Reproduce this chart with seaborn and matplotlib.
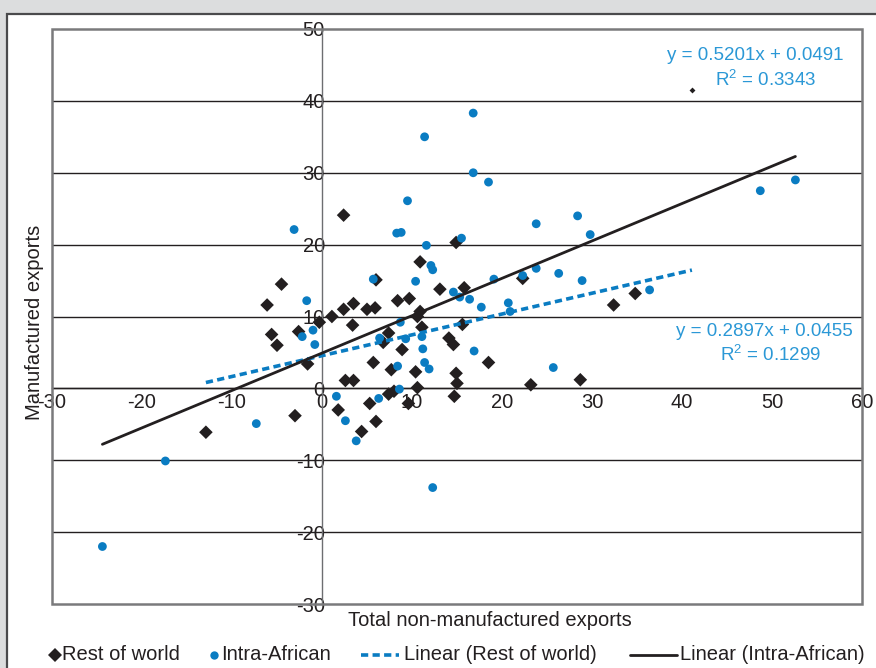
import numpy as np
import pandas as pd
import matplotlib
matplotlib.use("Agg")
import matplotlib.pyplot as plt
from matplotlib.lines import Line2D
from matplotlib.patches import Rectangle
import seaborn as sns

# Rest of world: (total non-manufactured exports, manufactured exports)
rw_x = [-12.9, -6.1, -5.6, -5.0, -4.5, -3.0, -2.6, -1.6, -0.3, 1.1, 1.8, 2.4, 2.4,
        2.6, 3.5, 3.4, 3.5, 4.4, 5.0, 5.9, 6.0, 5.7, 5.3, 6.0, 6.8, 7.4, 7.7, 7.4,
        8.0, 8.4, 8.9, 9.6, 9.7, 10.4, 10.6, 10.6, 10.9, 10.9, 11.1, 13.1, 14.1,
        14.6, 14.7, 14.9, 15.0, 14.9, 15.6, 15.8, 18.5, 22.3, 23.2, 28.7, 32.4, 34.8]
rw_y = [-6.1, 11.6, 7.5, 6.0, 14.5, -3.8, 7.9, 3.4, 9.2, 10.0, -3.0, 24.1, 11.0,
        1.1, 11.8, 8.8, 1.1, -6.0, 11.0, 11.2, 15.1, 3.6, -2.1, -4.6, 6.4, 7.7, 2.6,
        -0.8, -0.4, 12.2, 5.4, -2.1, 12.5, 2.3, 0.1, 10.0, 10.7, 17.6, 8.5, 13.8,
        7.0, 6.1, -1.1, 2.1, 0.7, 20.3, 8.9, 14.0, 3.6, 15.3, 0.5, 1.2, 11.6, 13.2]
# Small marker near the top right
rw_small_x = [41.1]
rw_small_y = [41.5]

# Intra-African
ia_x = [-24.4, -17.4, -7.3, -3.1, -1.7, -2.2, -1.0, -0.8, 1.6, 2.6, 3.8, 5.7, 6.3,
        6.4, 8.3, 8.8, 8.4, 8.6, 8.7, 9.3, 9.5, 10.4, 11.1, 11.2, 11.4, 11.4, 11.9,
        11.6, 12.1, 12.3, 12.3, 14.6, 15.3, 15.5, 16.4, 16.8, 16.8, 16.9, 17.7,
        18.5, 19.1, 20.7, 20.9, 22.3, 23.8, 23.8, 25.7, 26.3, 28.4, 28.9, 29.8,
        36.4, 48.7, 52.6]
ia_y = [-22.0, -10.1, -4.9, 22.1, 12.2, 7.2, 8.1, 6.1, -1.1, -4.5, -7.3, 15.2, -1.4,
        7.0, 21.6, 21.7, 3.1, -0.1, 9.2, 6.9, 26.1, 14.9, 7.2, 5.5, 35.0, 3.6, 2.7,
        19.9, 17.1, 16.5, -13.8, 13.4, 12.7, 20.9, 12.4, 38.3, 30.0, 5.2, 11.3,
        28.7, 15.2, 11.9, 10.7, 15.7, 16.7, 22.9, 2.9, 16.0, 24.0, 15.0, 21.4,
        13.7, 27.5, 29.0]

# Linear trend coefficients (data in fractions; axes in percent)
rw_slope, rw_icpt, rw_r2 = 0.2897, 0.0455, 0.1299
ia_slope, ia_icpt, ia_r2 = 0.5201, 0.0491, 0.3343

x_ticks = [-30, -20, -10, 0, 10, 20, 30, 40, 50, 60]
y_ticks = [-30, -20, -10, 0, 10, 20, 30, 40, 50]

BLACK = "#231f20"
BLUE = "#0a7cc2"
TEXT_BLUE = "#2b98d6"
W, H = 876, 668

sns.set_style("white")
plt.rcParams["font.family"] = ["Liberation Sans", "DejaVu Sans"]
plt.rcParams["mathtext.fontset"] = "custom"
plt.rcParams["mathtext.rm"] = "Liberation Sans"
plt.rcParams["mathtext.it"] = "Liberation Sans"

fig = plt.figure(figsize=(W / 100, H / 100), dpi=100)
fig.patch.set_facecolor("#dcddde")


def fx(p):
    return p / W


def fy(p):
    return 1 - p / H


# white panel
fig.add_artist(Rectangle((fx(7), -0.02), 1.0, fy(14) + 0.02, transform=fig.transFigure,
                         facecolor="white", edgecolor="#4a4a4c", linewidth=1.6, zorder=0))

ax = fig.add_axes([fx(52), fy(604), (862 - 52) / W, (604 - 29) / H])
ax.set_facecolor("white")
ax.patch.set_alpha(0)

df = pd.DataFrame({
    "x": rw_x + ia_x,
    "y": rw_y + ia_y,
    "group": ["Rest of world"] * len(rw_x) + ["Intra-African"] * len(ia_x),
})

ax.set_xlim(-30, 60)
ax.set_ylim(-30, 50)

for yv in y_ticks:
    if -30 < yv < 50:
        ax.axhline(yv, color=BLACK, lw=1.0, zorder=1)

sns.scatterplot(data=df, x="x", y="y", hue="group", style="group",
                markers={"Rest of world": "D", "Intra-African": "o"},
                palette={"Rest of world": BLACK, "Intra-African": BLUE},
                size="group", sizes={"Rest of world": 48, "Intra-African": 40},
                linewidth=0, legend=False, ax=ax, zorder=3)
ax.scatter(rw_small_x, rw_small_y, marker="D", s=9, color=BLACK, linewidth=0, zorder=3)

# trend lines over each series' range
rx = np.array([min(rw_x), max(rw_x + rw_small_x)])
sns.lineplot(x=rx, y=rw_slope * rx + rw_icpt * 100, ax=ax, color=BLUE, lw=2.6,
             linestyle=(0, (2.0, 1.2)), zorder=4)
ix = np.array([min(ia_x), max(ia_x)])
sns.lineplot(x=ix, y=ia_slope * ix + ia_icpt * 100, ax=ax, color=BLACK, lw=2.0, zorder=4)

ax.spines["left"].set_position(("data", 0))
ax.spines["bottom"].set_position(("data", 0))
ax.spines["left"].set_color("#6d6e71")
ax.spines["left"].set_linewidth(1.0)
ax.spines["bottom"].set_color(BLACK)
ax.spines["bottom"].set_linewidth(1.0)
ax.spines["top"].set_visible(False)
ax.spines["right"].set_visible(False)
ax.add_patch(Rectangle((0, 0), 1, 1, transform=ax.transAxes, fill=False,
                       edgecolor="#7a7a7c", linewidth=1.8, clip_on=False, zorder=5))

ax.set_xticks(x_ticks)
ax.set_yticks(y_ticks)
ax.set_xticklabels([str(v) for v in x_ticks])
ax.set_yticklabels([str(v) for v in y_ticks])
ax.tick_params(axis="both", length=0, labelsize=14.5, colors=BLACK)
ax.tick_params(axis="x", pad=3)
ax.tick_params(axis="y", pad=-2)
ax.set_xlabel("")
ax.set_ylabel("")

fig.text(fx(35), fy(322), "Manufactured exports", rotation=90, ha="center", va="center",
         fontsize=14.5, color=BLACK)
fig.text(fx(490), fy(620), "Total non-manufactured exports", ha="center", va="center",
         fontsize=14.5, color=BLACK)

# regression labels
fig.text(fx(755), fy(55), f"y = {ia_slope:.4f}x + {ia_icpt:.4f}", ha="center", va="center",
         fontsize=13.5, color=TEXT_BLUE)
fig.text(fx(766), fy(80), f"R$^2$ = {ia_r2:.4f}", ha="center", va="center",
         fontsize=13.5, color=TEXT_BLUE)
fig.text(fx(764), fy(331), f"y = {rw_slope:.4f}x + {rw_icpt:.4f}", ha="center", va="center",
         fontsize=13.5, color=TEXT_BLUE)
fig.text(fx(771), fy(355), f"R$^2$ = {rw_r2:.4f}", ha="center", va="center",
         fontsize=13.5, color=TEXT_BLUE)

# legend row
ly = fy(655)
fig.add_artist(Line2D([fx(55)], [ly], marker="D", markersize=7, color=BLACK,
                      markeredgewidth=0, transform=fig.transFigure))
fig.text(fx(62), ly, "Rest of world", ha="left", va="center", fontsize=14.5, color=BLACK)
fig.add_artist(Line2D([fx(214)], [ly], marker="o", markersize=6, color=BLUE,
                      markeredgewidth=0, transform=fig.transFigure))
fig.text(fx(221), ly, "Intra-African", ha="left", va="center", fontsize=14.5, color=BLACK)
fig.add_artist(Line2D([fx(361), fx(399)], [ly, ly], color=BLUE, lw=2.6,
                      linestyle=(0, (2.0, 1.2)), transform=fig.transFigure))
fig.text(fx(404), ly, "Linear (Rest of world)", ha="left", va="center", fontsize=14.5,
         color=BLACK)
fig.add_artist(Line2D([fx(630), fx(677)], [ly, ly], color=BLACK, lw=2.0,
                      transform=fig.transFigure))
fig.text(fx(680), ly, "Linear (Intra-African)", ha="left", va="center", fontsize=14.5,
         color=BLACK)

fig.savefig("out.png", dpi=100, facecolor=fig.get_facecolor())
